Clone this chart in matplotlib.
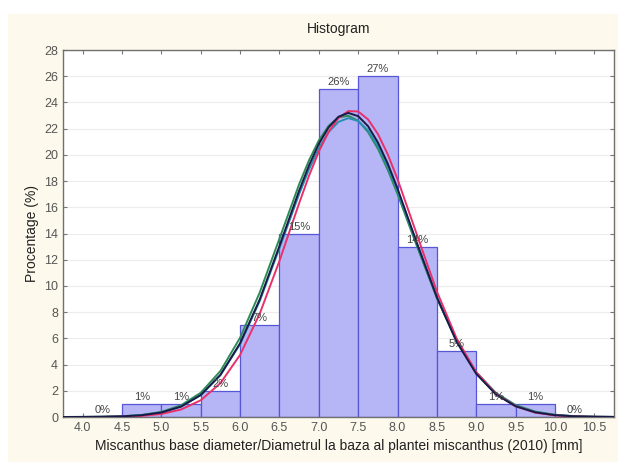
import numpy as np
import matplotlib
matplotlib.use("Agg")
import matplotlib.pyplot as plt
from matplotlib.patches import Rectangle

plt.rcParams['font.family'] = ['Liberation Sans', 'DejaVu Sans']

# histogram bins (mm) and heights (%)
bin_left = [4.0, 4.5, 5.0, 5.5, 6.0, 6.5, 7.0, 7.5, 8.0, 8.5, 9.0, 9.5, 10.0]
bar_height = [0, 1, 1, 2, 7, 14, 25, 26, 13, 5, 1, 1, 0]
bar_label = ["0%", "1%", "1%", "2%", "7%", "15%", "26%", "27%", "14%", "5%", "1%", "1%", "0%"]

# fitted curves
curve_x = [3.75, 4.0, 4.25, 4.5, 4.75, 5.0, 5.25, 5.5, 5.75, 6.0, 6.25, 6.5, 6.75, 6.875,
           7.0, 7.125, 7.25, 7.375, 7.5, 7.625, 7.75, 7.875, 8.0, 8.25, 8.5, 8.75,
           9.0, 9.25, 9.5, 9.75, 10.0, 10.25, 10.5, 10.75]
curve_green = [0.002, 0.006, 0.019, 0.057, 0.157, 0.392, 0.895, 1.85, 3.51, 6.05, 9.51, 13.61, 17.76, 19.58,
               21.10, 22.22, 22.86, 22.98, 22.60, 21.74, 20.47, 18.87, 17.01, 12.97, 9.06, 5.81,
               3.42, 1.84, 0.91, 0.414, 0.172, 0.066, 0.023, 0.007]
curve_teal = [0.001, 0.006, 0.018, 0.052, 0.142, 0.352, 0.80, 1.67, 3.19, 5.56, 8.86, 12.88, 17.0, 18.88,
              20.5, 21.74, 22.52, 22.8, 22.58, 21.87, 20.68, 19.12, 17.25, 13.15, 9.15, 5.8,
              3.35, 1.77, 0.85, 0.375, 0.15, 0.056, 0.019, 0.006]
curve_black = [0.001, 0.005, 0.016, 0.049, 0.136, 0.344, 0.795, 1.676, 3.218, 5.63, 8.98, 13.05, 17.27, 19.19,
               20.84, 22.10, 22.91, 23.20, 22.95, 22.19, 20.95, 19.34, 17.43, 13.21, 9.13, 5.74,
               3.29, 1.72, 0.82, 0.356, 0.141, 0.051, 0.017, 0.005]
curve_red = [0.0006, 0.002, 0.009, 0.029, 0.086, 0.232, 0.571, 1.275, 2.58, 4.74, 7.89, 11.91, 16.31, 18.40,
             20.25, 21.76, 22.82, 23.34, 23.31, 22.71, 21.60, 20.05, 18.15, 13.84, 9.57, 6.00,
             3.41, 1.76, 0.82, 0.33, 0.12, 0.04, 0.012, 0.003]

x_ticks = [4.0, 4.5, 5.0, 5.5, 6.0, 6.5, 7.0, 7.5, 8.0, 8.5, 9.0, 9.5, 10.0, 10.5]
y_ticks = list(range(0, 29, 2))

fig = plt.figure(figsize=(6.18, 4.62), dpi=100, facecolor='white')
bg = Rectangle((8 / 618, 0), 1, 1 - 14 / 462, transform=fig.transFigure,
               facecolor='#fdf9ec', edgecolor='none', zorder=-10)
fig.add_artist(bg)

ax = fig.add_axes([63 / 618, 1 - 417 / 462, (614 - 63) / 618, (417 - 50) / 462])
ax.set_zorder(5)
ax.set_facecolor('white')

ax.bar(bin_left, bar_height, width=0.5, align='edge', color='#b6b6f7',
       edgecolor='#5656d6', linewidth=0.9, zorder=2)
for xl, h, lab in zip(bin_left, bar_height, bar_label):
    ax.text(xl + 0.25, h + 0.15, lab, ha='center', va='bottom', fontsize=8, color='#444444', zorder=5)

ax.plot(curve_x, curve_green, color='#2e8b57', lw=1.4, zorder=3)
ax.plot(curve_x, curve_teal, color='#2a8fb0', lw=1.4, zorder=3)
ax.plot(curve_x, curve_red, color='#e8306a', lw=1.4, zorder=3)
ax.plot(curve_x, curve_black, color='#1a1a48', lw=1.4, zorder=4)

ax.set_xlim(3.75, 10.75)
ax.set_ylim(0, 28)
ax.set_xticks(x_ticks)
ax.set_xticklabels([f"{v:.1f}" for v in x_ticks])
ax.set_yticks(y_ticks)
ax.yaxis.grid(True, color='#ececec', lw=0.8, zorder=0)
ax.set_axisbelow(True)
ax.tick_params(direction='in', length=3, width=0.8, colors='#777777', labelcolor='#555555',
               labelsize=9, top=True, right=True)
for s in ax.spines.values():
    s.set_color('#707070')
    s.set_linewidth(1.0)

ax.set_title("Histogram", fontsize=10, color='#222222', pad=12)
ax.set_xlabel("Miscanthus base diameter/Diametrul la baza al plantei miscanthus (2010) [mm]",
              fontsize=10, color='#222222', labelpad=4)
ax.set_ylabel("Procentage (%)", fontsize=10, color='#222222', labelpad=4)

fig.savefig("out.png", dpi=100, facecolor=fig.get_facecolor())
